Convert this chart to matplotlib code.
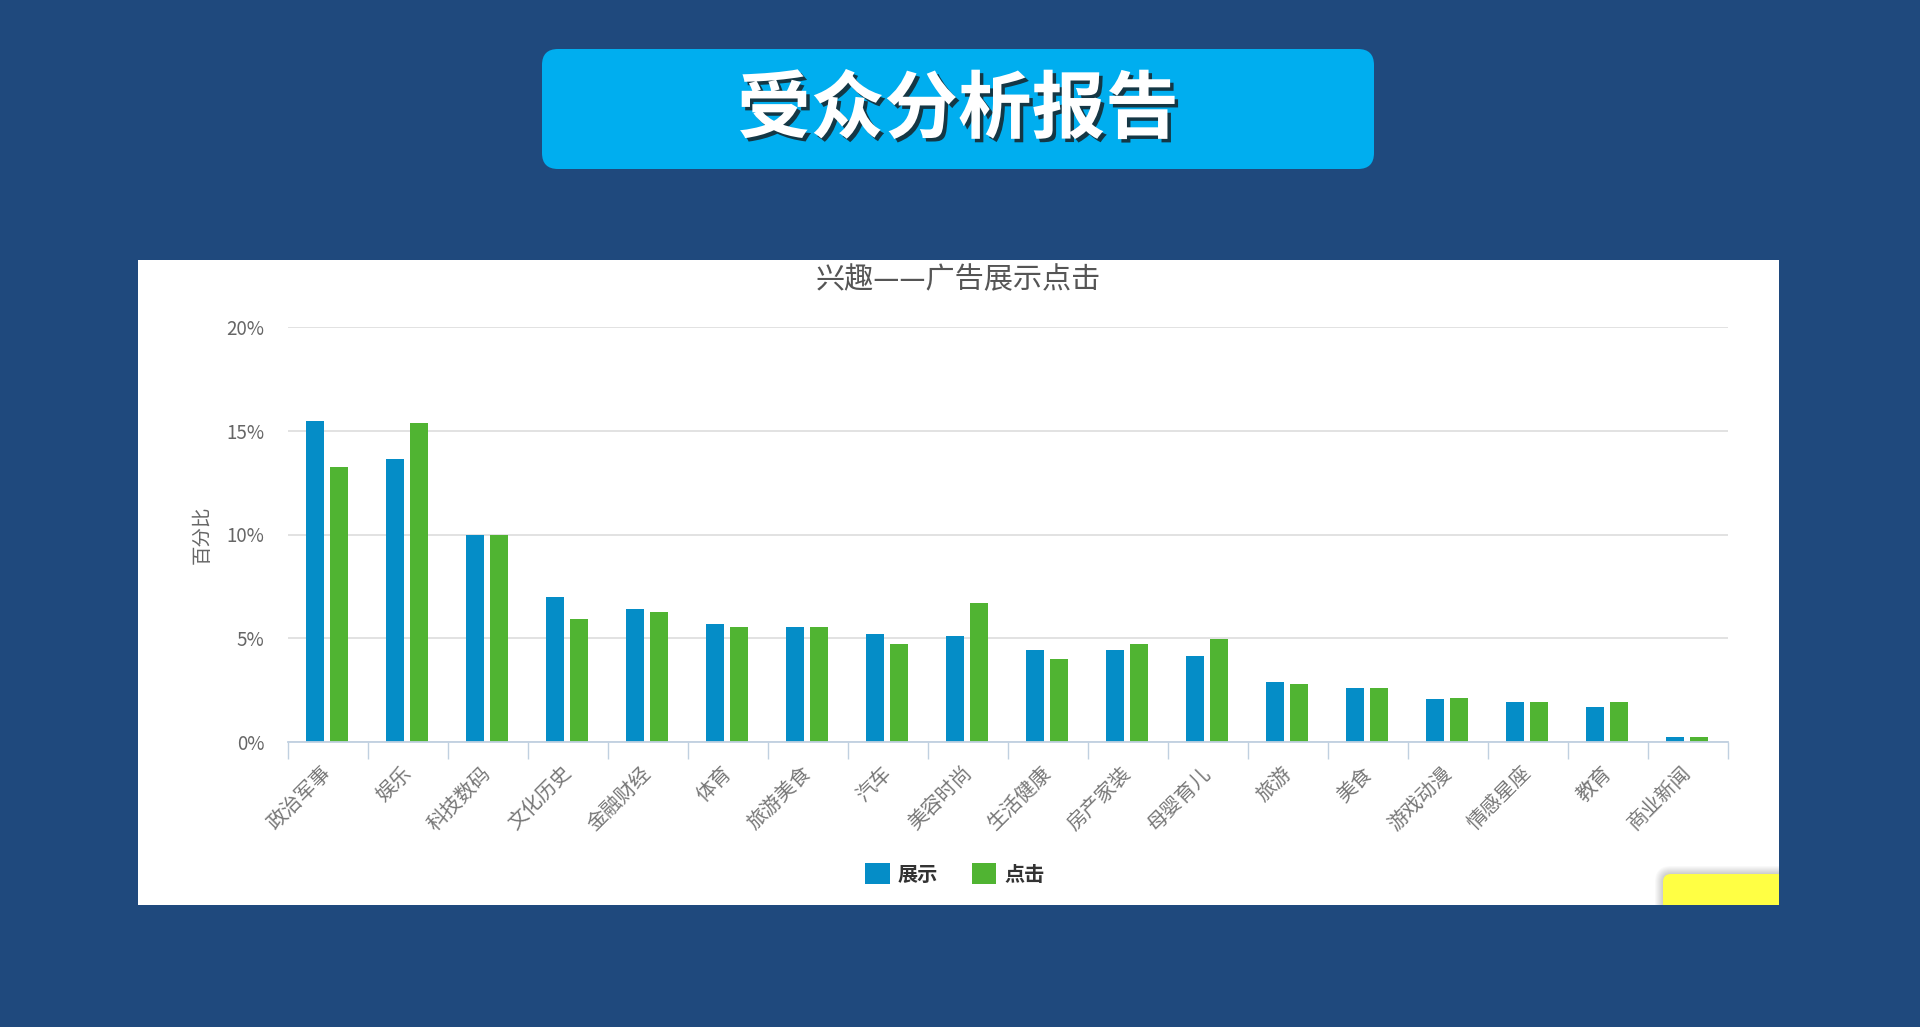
import matplotlib
matplotlib.use('Agg')
import matplotlib.pyplot as plt
import matplotlib.patheffects as pe
import matplotlib.transforms as mtransforms
from matplotlib.patches import FancyBboxPatch, Rectangle
import numpy as np

plt.rcParams['font.family'] = ['Noto Sans CJK SC', 'DejaVu Sans']

# interest categories and percentages
categories = ['政治军事', '娱乐', '科技数码', '文化历史', '金融财经', '体育',
              '旅游美食', '汽车', '美容时尚', '生活健康', '房产家装', '母婴育儿',
              '旅游', '美食', '游戏动漫', '情感星座', '教育', '商业新闻']
show_pct = [15.45, 13.65, 10.0, 7.0, 6.42, 5.7, 5.55, 5.2, 5.12, 4.42,
            4.42, 4.15, 2.88, 2.62, 2.05, 1.95, 1.71, 0.26]
click_pct = [13.25, 15.35, 10.0, 5.95, 6.28, 5.55, 5.55, 4.72, 6.68, 4.0,
             4.73, 4.97, 2.78, 2.62, 2.12, 1.95, 1.95, 0.26]
yticks = [0, 5, 10, 15, 20]
ytick_labels = ['0%', '5%', '10%', '15%', '20%']

W, H = 1920, 1027
fig = plt.figure(figsize=(W / 100, H / 100), dpi=100)
fig.patch.set_facecolor('#1F497D')

# background layer in pixel units
bg = fig.add_axes([0, 0, 1, 1])
bg.set_xlim(0, W)
bg.set_ylim(H, 0)
bg.axis('off')

# title banner
bg.add_patch(FancyBboxPatch((542, 49), 832, 120, boxstyle='round,pad=0,rounding_size=16',
                            fc='#00AEEF', ec='none'))
bg.text(958, 111, '受众分析报告', fontsize=53, weight='bold', color='white',
        ha='center', va='center',
        path_effects=[pe.withSimplePatchShadow(offset=(2.5, -2.5), shadow_rgbFace='#1a1a1a', alpha=0.8)])

# white chart panel
panel = Rectangle((138, 260), 1641, 645, fc='white', ec='none')
bg.add_patch(panel)

# yellow note in the corner, with a soft shadow
for i in range(8, 0, -1):
    sh = FancyBboxPatch((1663 - i, 874 - i), 200 + 2 * i, 80 + 2 * i,
                        boxstyle='round,pad=0,rounding_size=%d' % (8 + i),
                        fc='black', ec='none', alpha=0.025)
    bg.add_patch(sh)
    sh.set_clip_path(panel)
note = FancyBboxPatch((1663, 874), 200, 80, boxstyle='round,pad=0,rounding_size=8',
                      fc='#FFFF44', ec='none')
bg.add_patch(note)
note.set_clip_path(panel)

# chart
ax = fig.add_axes([288 / W, (H - 742) / H, 1440 / W, 415 / H])
ax.set_facecolor('none')
x = np.arange(len(categories))
ax.bar(x - 0.165, show_pct, 0.225, color='#058DC7', label='展示', zorder=3)
ax.bar(x + 0.14, click_pct, 0.225, color='#50B432', label='点击', zorder=3)

ax.set_xlim(-0.5, len(categories) - 0.5)
ax.set_ylim(0, 20)
ax.set_yticks(yticks)
ax.set_yticklabels(ytick_labels)
ax.yaxis.grid(True, color='#E2E2E2', lw=1.4)
ax.set_axisbelow(True)
for s in ['top', 'right', 'left']:
    ax.spines[s].set_visible(False)
ax.spines['bottom'].set_color('#C0D0E0')
ax.spines['bottom'].set_linewidth(1.3)
ax.spines['bottom'].set_zorder(4)

ax.tick_params(axis='y', length=0, pad=17, labelsize=13.5, labelcolor='#666666')
ax.set_xticks(x)
ax.set_xticklabels(categories, rotation=45, ha='right', rotation_mode='anchor',
                   fontsize=14.5, color='#777777')
ax.tick_params(axis='x', which='major', length=0, pad=15)
ax.set_xticks(np.arange(-0.5, len(categories), 1), minor=True)
ax.tick_params(axis='x', which='minor', length=12, color='#C0D0E0', width=1)
shift = mtransforms.ScaledTranslation(-0.07, 0, fig.dpi_scale_trans)
for lbl in ax.get_xticklabels():
    lbl.set_transform(lbl.get_transform() + shift)

ax.set_ylabel('百分比', fontsize=14, color='#666666')
ax.yaxis.set_label_coords((213 - 288) / 1440, 0.5)

fig.text(958 / W, 1 - 280 / H, '兴趣——广告展示点击', fontsize=21, color='#555555',
         ha='center', va='center')

ax.legend(loc='center', bbox_to_anchor=(955 / W, 1 - 874 / H), bbox_transform=fig.transFigure,
          ncol=2, frameon=False, prop={'size': 14.5, 'weight': 'bold'}, labelcolor='#333333',
          handlelength=1.2, handleheight=1.2, handletextpad=0.4, columnspacing=1.7)

fig.savefig('out.png', dpi=100, facecolor=fig.get_facecolor())
